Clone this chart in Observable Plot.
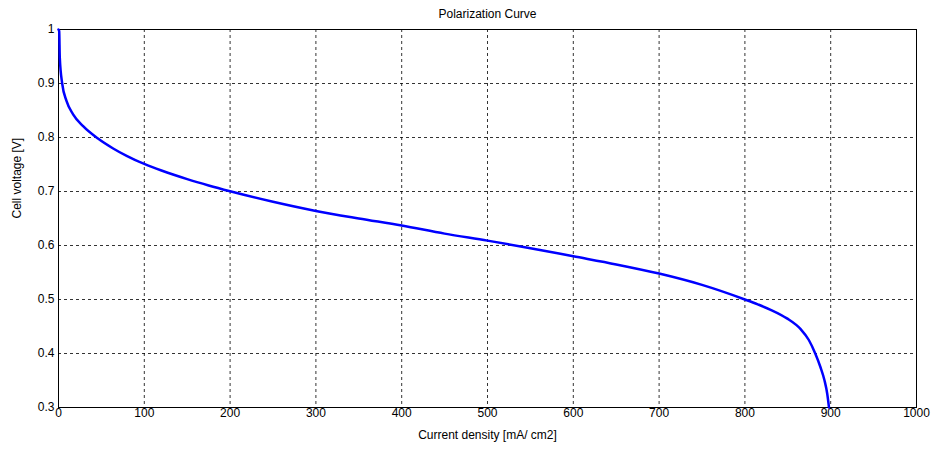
<!DOCTYPE html>
<html>
<head>
<meta charset="utf-8">
<script src="https://cdn.jsdelivr.net/npm/d3@7"></script>
<script src="https://cdn.jsdelivr.net/npm/@observablehq/plot@0.6"></script>
<style>
  html, body { margin: 0; padding: 0; background: #fff; }
  #chart svg { display: block; }
</style>
</head>
<body>
<div id="chart"></div>
<script>
const titleText = "Polarization Curve";
const xLabel = "Current density [mA/ cm2]";
const yLabel = "Cell voltage [V]";
const xTicks = [0, 100, 200, 300, 400, 500, 600, 700, 800, 900, 1000];
const yTicks = [0.3, 0.4, 0.5, 0.6, 0.7, 0.8, 0.9, 1];
const currentDensity = [0, 0.8, 1.5, 4.3, 9.3, 17, 28.7, 46, 63.7, 80, 100, 120, 150, 175, 200, 250, 300, 350, 400, 450, 500, 550, 600, 650, 700, 750, 800, 815, 830, 849, 865, 874.5, 882, 888, 892.8, 896, 898];
const cellVoltage = [1.0, 0.997, 0.948, 0.9, 0.868, 0.843, 0.821, 0.798, 0.7796, 0.7654, 0.751, 0.7388, 0.7229, 0.7112, 0.7005, 0.681, 0.664, 0.65, 0.637, 0.622, 0.609, 0.595, 0.58, 0.565, 0.548, 0.527, 0.5, 0.491, 0.481, 0.465, 0.445, 0.425, 0.4, 0.375, 0.35, 0.325, 0.3];

const data = currentDensity.map((x, i) => ({x, y: cellVoltage[i]}));
const fmtY = d => d === 1 ? "1" : d3.format(".1f")(d);
const fmtX = d => String(d);

const chart = Plot.plot({
  width: 932,
  height: 449,
  marginLeft: 58,
  marginRight: 16,
  marginTop: 29,
  marginBottom: 42,
  style: {fontFamily: "'Liberation Sans', Arial, sans-serif", fontSize: "12px", color: "#000", background: "#fff"},
  x: {domain: [0, 1000]},
  y: {domain: [0.3, 1]},
  marks: [
    Plot.ruleX(xTicks.slice(1, -1), {stroke: "#000", strokeWidth: 1, strokeDasharray: "3,3", strokeOpacity: 0.8}),
    Plot.ruleY(yTicks.slice(1, -1), {stroke: "#000", strokeWidth: 1, strokeDasharray: "3,3", strokeOpacity: 0.8}),
    Plot.axisX(xTicks, {anchor: "bottom", tickSize: 0, tickPadding: 1, tickFormat: fmtX, fill: "#000", label: null, fontSize: 12}),
    Plot.axisY(yTicks, {anchor: "left", tickSize: 0, tickPadding: 4, tickFormat: fmtY, fill: "#000", label: null, fontSize: 12}),
    Plot.frame({stroke: "#000", strokeWidth: 1}),
    Plot.line(data, {x: "x", y: "y", stroke: "#0000ff", strokeWidth: 2.5, curve: "monotone-x"}),
    Plot.text([titleText], {frameAnchor: "top", dy: -20, fontSize: 12, fill: "#000"}),
    Plot.text([xLabel], {frameAnchor: "bottom", dy: 31, fontSize: 12, fill: "#000"}),
    Plot.text([yLabel], {frameAnchor: "left", dx: -41, rotate: -90, fontSize: 12, fill: "#000"})
  ]
});
document.getElementById("chart").appendChild(chart);
</script>
</body>
</html>
